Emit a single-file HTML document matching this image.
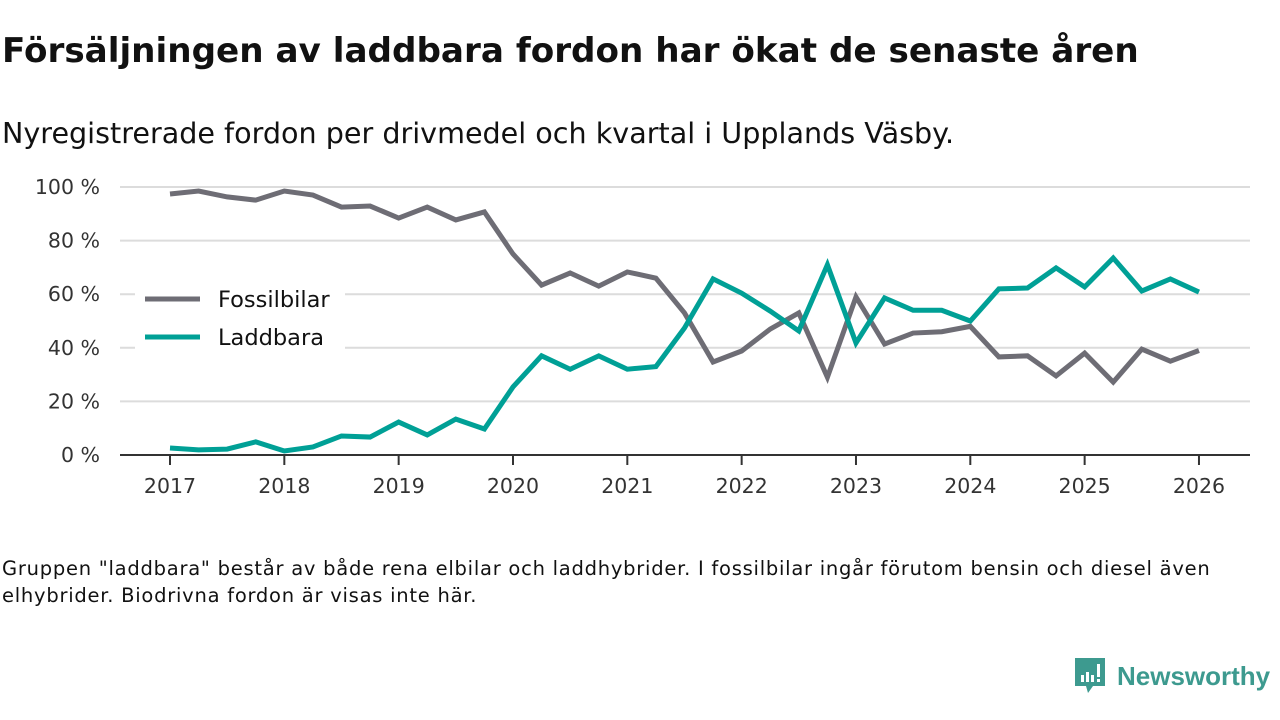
<!DOCTYPE html>
<html><head><meta charset="utf-8">
<style>
body{margin:0;background:#fff;width:1280px;height:720px;overflow:hidden;font-family:"DejaVu Sans","Liberation Sans",sans-serif;}
#title{position:absolute;left:2px;top:31px;font-size:34.2px;font-weight:bold;color:#111;margin:0;white-space:nowrap;}
#sub{position:absolute;left:2px;top:116px;font-size:28.6px;color:#111;white-space:nowrap;}
#note{position:absolute;left:2px;top:555px;font-size:19.5px;letter-spacing:0.75px;color:#111;line-height:27px;width:1225px;}
#logo{position:absolute;left:1073px;top:656px;display:flex;align-items:center;}
</style></head><body>
<h1 id="title">Försäljningen av laddbara fordon har ökat de senaste åren</h1>
<div id="sub">Nyregistrerade fordon per drivmedel och kvartal i Upplands Väsby.</div>
<svg id="chart" width="1280" height="720" style="position:absolute;left:0;top:0" xmlns="http://www.w3.org/2000/svg"></svg>
<div id="note">Gruppen "laddbara" består av både rena elbilar och laddhybrider. I fossilbilar ingår förutom bensin och diesel även elhybrider. Biodrivna fordon är visas inte här.</div>
<div id="logo">
<svg width="34" height="40" viewBox="0 0 34 40"><path d="M2 2h30v28H20l-5 7-2-7H2z" fill="#3d9a8f"/><rect x="8" y="19" width="3" height="7" fill="#fff"/><rect x="13" y="16" width="3" height="10" fill="#fff"/><rect x="18" y="19" width="3" height="7" fill="#fff"/><rect x="24" y="8" width="3" height="13" fill="#fff"/><rect x="24" y="23" width="3" height="3" fill="#fff"/></svg>
<span style="font-family:'Liberation Sans',sans-serif;font-size:26px;color:#3d9a8f;font-weight:bold;margin-left:10px;">Newsworthy</span>
</div>
<script>
const years=[2017,2018,2019,2020,2021,2022,2023,2024,2025,2026];
const yTicks=[0,20,40,60,80,100];
const fossil=[97.4,98.5,96.3,95.1,98.5,97,92.5,92.9,88.4,92.5,87.7,90.7,75,63.4,67.9,63,68.3,66,53,34.7,38.8,47,53,29,59,41.4,45.5,46,48,36.6,37,29.5,38,27.2,39.5,35,39];
const laddbara=[2.6,1.9,2.2,4.9,1.5,3,7.1,6.7,12.3,7.5,13.4,9.7,25.4,37,32,37,32,33,47.4,65.7,60.4,53.7,46.3,71,41.8,58.6,54,54,50,62,62.3,69.8,62.7,73.5,61.2,65.7,60.8];
const NS="http://www.w3.org/2000/svg";
const svg=document.getElementById('chart');
const x=t=>170+(t-2017)*114.33;
const y=v=>455-v*2.68;
function mk(tag,attrs){const e=document.createElementNS(NS,tag);for(const k in attrs)e.setAttribute(k,attrs[k]);svg.appendChild(e);return e;}
yTicks.forEach(v=>{
  if(v>0){const g=mk('line',{x1:120,x2:1250,y1:y(v),y2:y(v),stroke:'#dcdcdc','stroke-width':2});
  
  }
  const t=mk('text',{x:100,y:y(v)+7,'text-anchor':'end','font-size':20.5,fill:'#333'});
  t.textContent=v+' %';
  
  
});
const ax=mk('line',{x1:120,x2:1250,y1:455,y2:455,stroke:'#333','stroke-width':2});


years.forEach(yr=>{
  const tk=mk('line',{x1:x(yr),x2:x(yr),y1:455,y2:465,stroke:'#333','stroke-width':2});
  
  
  const t=mk('text',{x:x(yr),y:493,'text-anchor':'middle','font-size':20.5,fill:'#333'});
  t.textContent=yr;
  
  
});
const lb=mk('rect',{x:135,y:278,width:210,height:74,fill:'#fff'});


function line(data,color,name){
  const p=data.map((v,i)=>x(2017+i*0.25)+','+y(v)).join(' ');
  const l=mk('polyline',{points:p,fill:'none',stroke:color,'stroke-width':5,'stroke-linejoin':'miter'});
  
  
}
line(fossil,'#6e6d75','fossilbilar-line');
line(laddbara,'#00a096','laddbara-line');
[['Fossilbilar','#6e6d75',299],['Laddbara','#00a096',337]].forEach(([n,c,yy])=>{
  const l=mk('line',{x1:145,x2:200,y1:yy,y2:yy,stroke:c,'stroke-width':5});
  
  
  const t=mk('text',{x:218,y:yy+8,'font-size':22.5,fill:'#111'});
  t.textContent=n;
  
  
});
</script>
</body></html>
